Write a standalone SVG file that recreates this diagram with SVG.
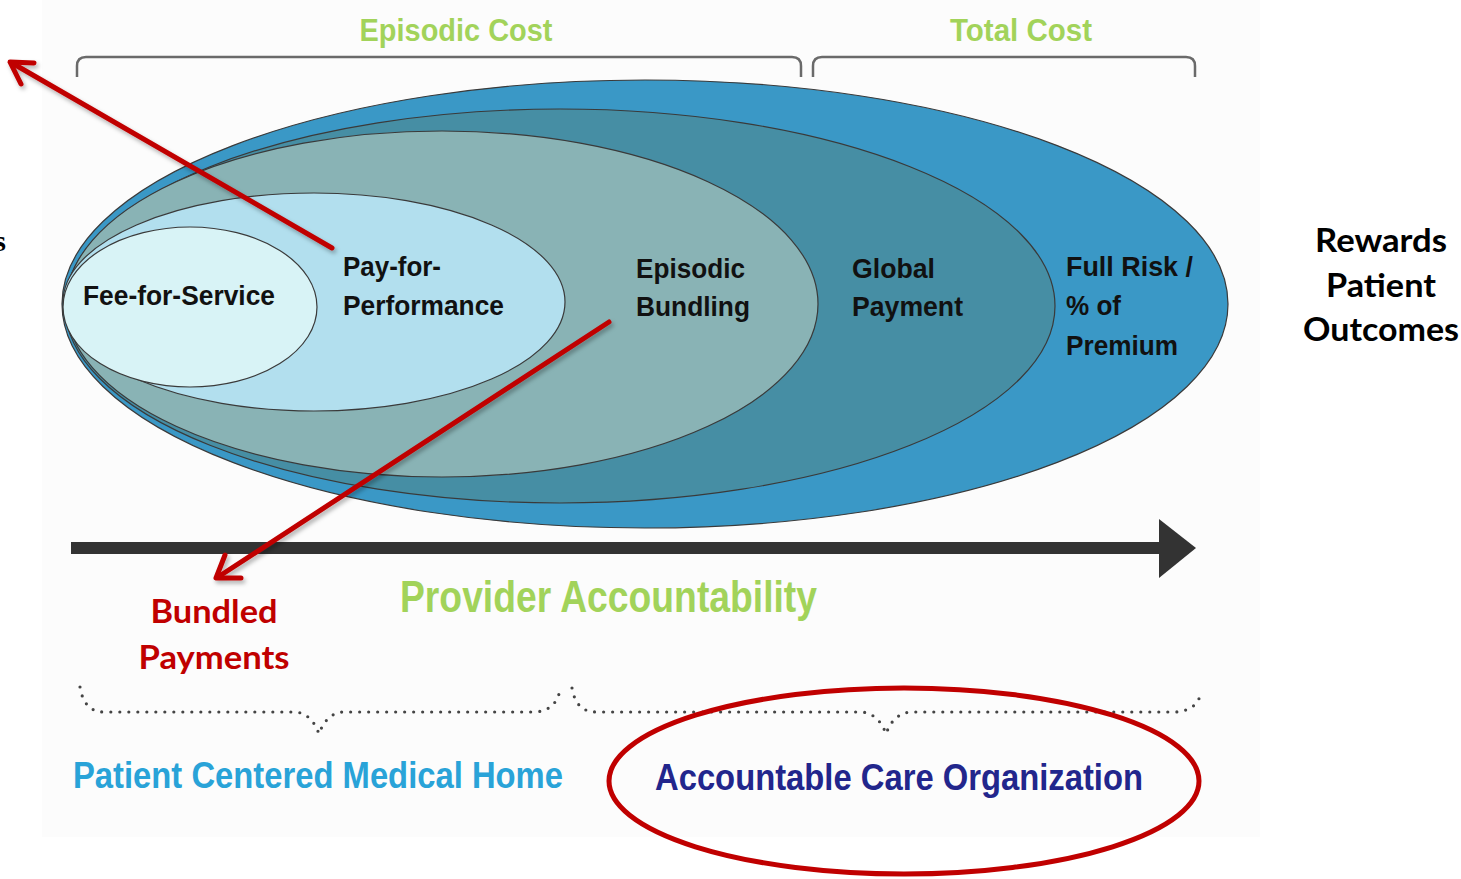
<svg xmlns="http://www.w3.org/2000/svg" width="1461" height="879" viewBox="0 0 1461 879">
  <defs>
    <style>
      .lbl { font-family: "Liberation Sans", Arial, sans-serif; font-weight: bold; font-size: 28px; fill: #111; }
      .ring { stroke: #3a3a3a; stroke-width: 1.2; }
      .green { font-family: "Liberation Sans", Arial, sans-serif; font-weight: bold; fill: #a2d35a; }
      .bottom { font-family: "Liberation Sans", Arial, sans-serif; font-weight: bold; font-size: 37px; }
      .side { font-family: Lato, "Open Sans", sans-serif; font-weight: bold; font-size: 32px; fill: #000; text-anchor: middle; }
      .red { stroke: #c00000; stroke-width: 5; fill: none; stroke-linecap: round; stroke-linejoin: round; }
      .brace { fill: none; stroke: #6a6a6a; stroke-width: 2.5; }
      .dots { fill: none; stroke: #444; stroke-width: 3.2; stroke-linecap: round; stroke-dasharray: 0 9; }
    </style>
    <filter id="shadow" x="-10%" y="-10%" width="120%" height="120%">
      <feDropShadow dx="2" dy="3" stdDeviation="2" flood-color="#000" flood-opacity="0.3"/>
    </filter>
  </defs>

  <!-- page background -->
  <rect x="0" y="0" width="1461" height="879" fill="#ffffff"/>
  <rect x="42" y="0" width="1218" height="837" fill="#fcfcfc"/>

  <!-- clipped letter at the left edge -->
  <text x="6" y="251" text-anchor="end" font-family="Liberation Serif, serif" font-weight="bold" font-size="30" fill="#000">s</text>

  <!-- top braces -->
  <g id="episodic-cost">
    <path class="brace" d="M77 77 V66 Q77 57 86 57 H792 Q801 57 801 66 V77"/>
    <text class="green" x="456" y="41" font-size="32" text-anchor="middle" textLength="193" lengthAdjust="spacingAndGlyphs">Episodic Cost</text>
  </g>
  <g id="total-cost">
    <path class="brace" d="M813 77 V66 Q813 57 822 57 H1186 Q1195 57 1195 66 V77"/>
    <text class="green" x="1021" y="41" font-size="32" text-anchor="middle" textLength="142" lengthAdjust="spacingAndGlyphs">Total Cost</text>
  </g>

  <!-- nested payment model ellipses -->
  <g id="full-risk">
    <ellipse class="ring" cx="645" cy="304" rx="583" ry="224" fill="#3a98c6"/>
    <text class="lbl" x="1066" y="276" textLength="127" lengthAdjust="spacingAndGlyphs">Full Risk /</text>
    <text class="lbl" x="1066" y="315" textLength="55" lengthAdjust="spacingAndGlyphs">% of</text>
    <text class="lbl" x="1066" y="355" textLength="112" lengthAdjust="spacingAndGlyphs">Premium</text>
  </g>
  <g id="global-payment">
    <ellipse class="ring" cx="560" cy="306" rx="495" ry="197" fill="#468ea4"/>
    <text class="lbl" x="852" y="278" textLength="83" lengthAdjust="spacingAndGlyphs">Global</text>
    <text class="lbl" x="852" y="316" textLength="111" lengthAdjust="spacingAndGlyphs">Payment</text>
  </g>
  <g id="episodic-bundling">
    <ellipse class="ring" cx="442" cy="304" rx="376" ry="173" fill="#89b3b5"/>
    <text class="lbl" x="636" y="278" textLength="109" lengthAdjust="spacingAndGlyphs">Episodic</text>
    <text class="lbl" x="636" y="316" textLength="114" lengthAdjust="spacingAndGlyphs">Bundling</text>
  </g>
  <g id="pay-for-performance">
    <ellipse class="ring" cx="314" cy="302" rx="251" ry="109" fill="#b2dfee"/>
    <text class="lbl" x="343" y="276" textLength="98" lengthAdjust="spacingAndGlyphs">Pay-for-</text>
    <text class="lbl" x="343" y="315" textLength="161" lengthAdjust="spacingAndGlyphs">Performance</text>
  </g>
  <g id="fee-for-service">
    <ellipse class="ring" cx="190" cy="307" rx="127" ry="80" fill="#d8f3f6"/>
    <text class="lbl" x="83" y="305" textLength="192" lengthAdjust="spacingAndGlyphs">Fee-for-Service</text>
  </g>

  <!-- accountability axis -->
  <g id="provider-accountability">
    <rect x="71" y="542" width="1092" height="12" fill="#333333"/>
    <polygon points="1159,519 1196,548 1159,578" fill="#333333"/>
    <text class="green" x="400" y="612" font-size="44" textLength="417" lengthAdjust="spacingAndGlyphs">Provider Accountability</text>
  </g>

  <g id="rewards-patient-outcomes">
    <text class="side" x="1381" y="252" textLength="132" lengthAdjust="spacingAndGlyphs">Rewards</text>
    <text class="side" x="1381" y="297" textLength="110" lengthAdjust="spacingAndGlyphs">Patient</text>
    <text class="side" x="1381" y="341" textLength="156" lengthAdjust="spacingAndGlyphs">Outcomes</text>
  </g>

  <g id="bundled-payments">
    <text class="side" x="214" y="623" style="fill:#c00000" textLength="127" lengthAdjust="spacingAndGlyphs">Bundled</text>
    <text class="side" x="214" y="669" style="fill:#c00000" textLength="151" lengthAdjust="spacingAndGlyphs">Payments</text>
  </g>

  <!-- bottom dotted braces -->
  <g id="medical-home">
    <path class="dots" d="M80 687 Q84 712 104 712 H296 Q312 714 319 734 Q326 714 342 712 H536 Q556 710 560 690"/>
    <text class="bottom" x="73" y="788" fill="#29a3d8" textLength="490" lengthAdjust="spacingAndGlyphs">Patient Centered Medical Home</text>
  </g>
  <g id="accountable-care">
    <path class="dots" d="M572 688 Q576 712 596 712 H862 Q879 714 886 734 Q893 714 910 712 H1176 Q1198 710 1201 692"/>
    <text class="bottom" x="655" y="790" fill="#22268c" textLength="488" lengthAdjust="spacingAndGlyphs">Accountable Care Organization</text>
    <ellipse cx="904" cy="781" rx="295" ry="93" fill="none" stroke="#c00000" stroke-width="5"/>
  </g>

  <!-- red callout arrows -->
  <g id="connectors" filter="url(#shadow)">
    <path class="red" d="M332 248 L12 63"/>
    <path class="red" d="M34 63 L10 62 L21 84"/>
    <path class="red" d="M609 322 L218 577"/>
    <path class="red" d="M225 555 L216 578 L241 578"/>
  </g>
</svg>
